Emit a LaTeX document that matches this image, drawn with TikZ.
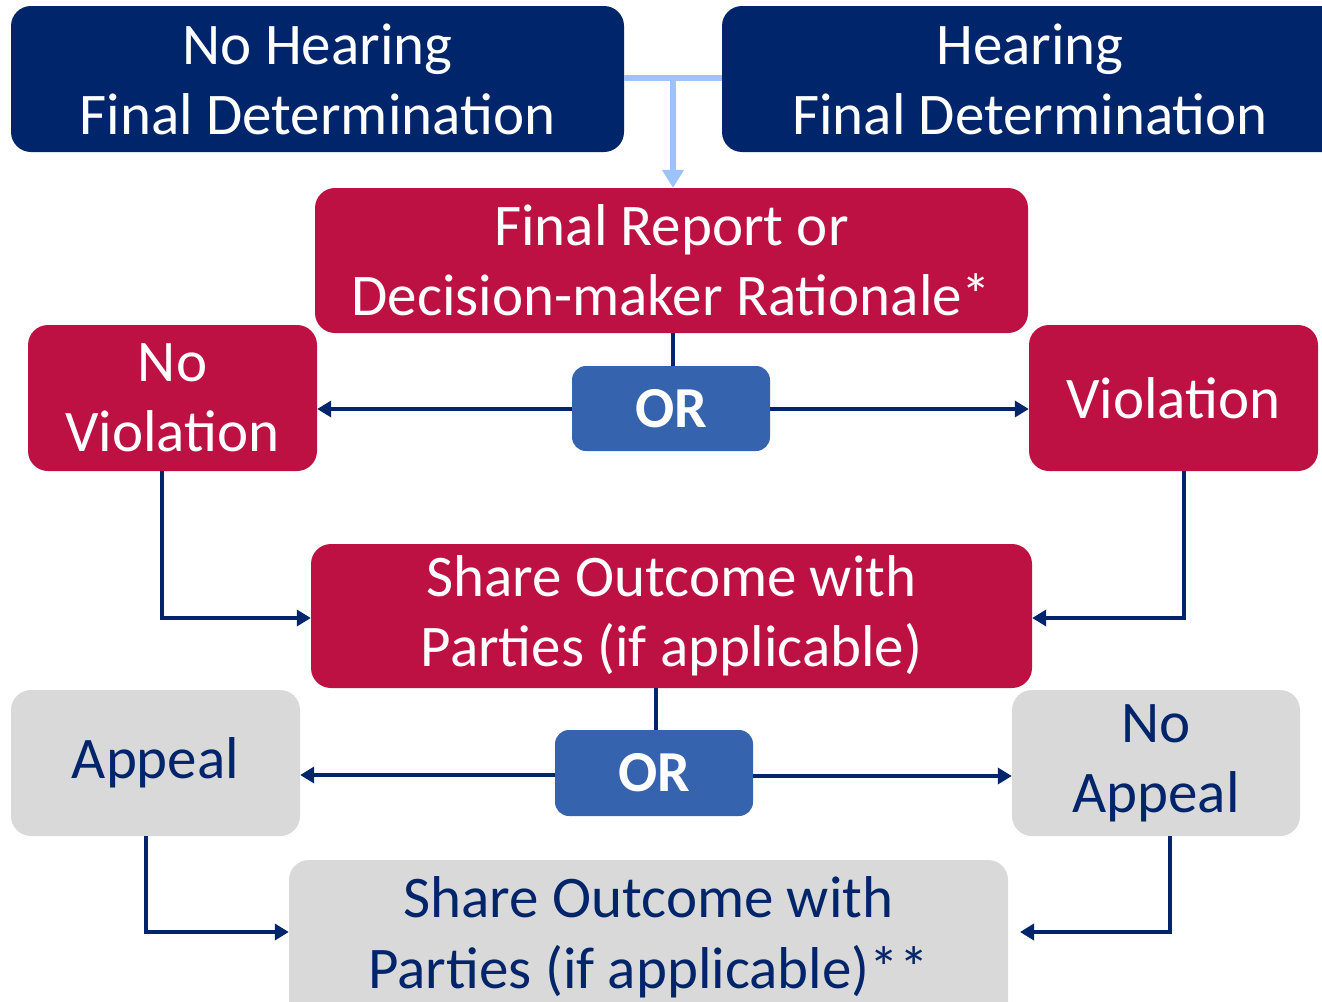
\documentclass[tikz,border=0pt]{standalone}
\usepackage{fontspec}
\setmainfont{Carlito}
\usetikzlibrary{arrows.meta}
\definecolor{navy}{HTML}{00256A}
\definecolor{crim}{HTML}{BE1143}
\definecolor{orblue}{HTML}{3563AE}
\definecolor{lgray}{HTML}{D9D9D9}
\definecolor{lblue}{HTML}{9DC3FF}
\tikzset{
  box/.style={rounded corners=20pt, align=center, inner sep=0pt, font=\fontsize{59}{70}\selectfont},
  navybox/.style={box, fill=navy, text=white},
  redbox/.style={box, fill=crim, text=white},
  graybox/.style={box, fill=lgray, text=navy},
  orbox/.style={rounded corners=14pt, fill=orblue, text=white, inner sep=0pt, font=\fontsize{58}{60}\selectfont\bfseries},
  conn/.style={draw=navy, line width=4pt, -{Triangle[length=14pt,width=16pt]}},
  plain/.style={draw=navy, line width=4pt},
}
\begin{document}
\begin{tikzpicture}[x=1pt,y=-1pt]
\useasboundingbox (0,0) rectangle (1322,1001);
\clip (0,0) rectangle (1322,1001);
% boxes
\node[navybox, minimum width=613pt, minimum height=146pt] (nh) at (317.5,79) {No Hearing\\Final Determination};
\node[navybox, minimum width=640pt, minimum height=146pt] (h) at (1042,79) {\hspace*{-24pt}Hearing\\\hspace*{-24pt}Final Determination};
\node[redbox, minimum width=713pt, minimum height=145pt] (fr) at (671.5,260.5) {Final Report or\\Decision-maker Rationale*};
\node[redbox, minimum width=289pt, minimum height=146pt] (nv) at (172.5,398) {No\\Violation};
\node[redbox, minimum width=289pt, minimum height=146pt] (v) at (1173.5,398) {Violation};
\node[orbox, minimum width=198pt, minimum height=85pt] (or1) at (671,408.5) {OR};
\node[redbox, minimum width=721pt, minimum height=144pt] (so) at (671.5,616) {Share Outcome with\\Parties (if applicable)};
\node[graybox, minimum width=289pt, minimum height=146pt] (ap) at (155.5,763) {Appeal};
\node[graybox, minimum width=288pt, minimum height=146pt] (nap) at (1156,763) {No\\Appeal};
\node[orbox, minimum width=198pt, minimum height=86pt] (or2) at (654,773) {OR};
\node[graybox, minimum width=719pt, minimum height=170pt] (sg) at (648.5,945) {};
\node[text=navy, align=center, inner sep=0pt, anchor=base, font=\fontsize{59}{71}\selectfont] (sgt) at (648.5,988) {Share Outcome with\\Parties (if applicable)**};
% top connector
\coordinate (tj) at (673,78);
\draw[draw=lblue, line width=6pt] (nh.east |- tj) -- (h.west |- tj);
\draw[draw=lblue, line width=6pt, -{Triangle[length=18pt,width=21pt]}] (tj) -- (tj |- fr.north);
% OR1
\draw[plain] (fr.south -| 673,0) -- (or1.north -| 673,0);
\draw[conn] (or1.west |- 0,409) -- (nv.east |- 0,409);
\draw[conn] (or1.east |- 0,409) -- (v.west |- 0,409);
% down to share outcome
\coordinate (c1) at (162,618);
\coordinate (c2) at (1184,618);
\draw[conn] (nv.south -| c1) -- (c1) -- (so.west |- c1);
\draw[conn] (v.south -| c2) -- (c2) -- (so.east |- c2);
% OR2
\draw[plain] (so.south -| 656,0) -- (or2.north -| 656,0);
\draw[conn] (or2.west |- 0,775) -- (ap.east |- 0,775);
\draw[conn] (or2.east |- 0,776) -- (nap.west |- 0,776);
% down to gray share outcome
\coordinate (c3) at (146,932);
\coordinate (c4) at (1170,932);
\draw[conn] (ap.south -| c3) -- (c3) -- (sg.west |- c3);
\coordinate (c4e) at (1020,932);
\draw[conn] (nap.south -| c4) -- (c4) -- (c4e);
\end{tikzpicture}
\end{document}
